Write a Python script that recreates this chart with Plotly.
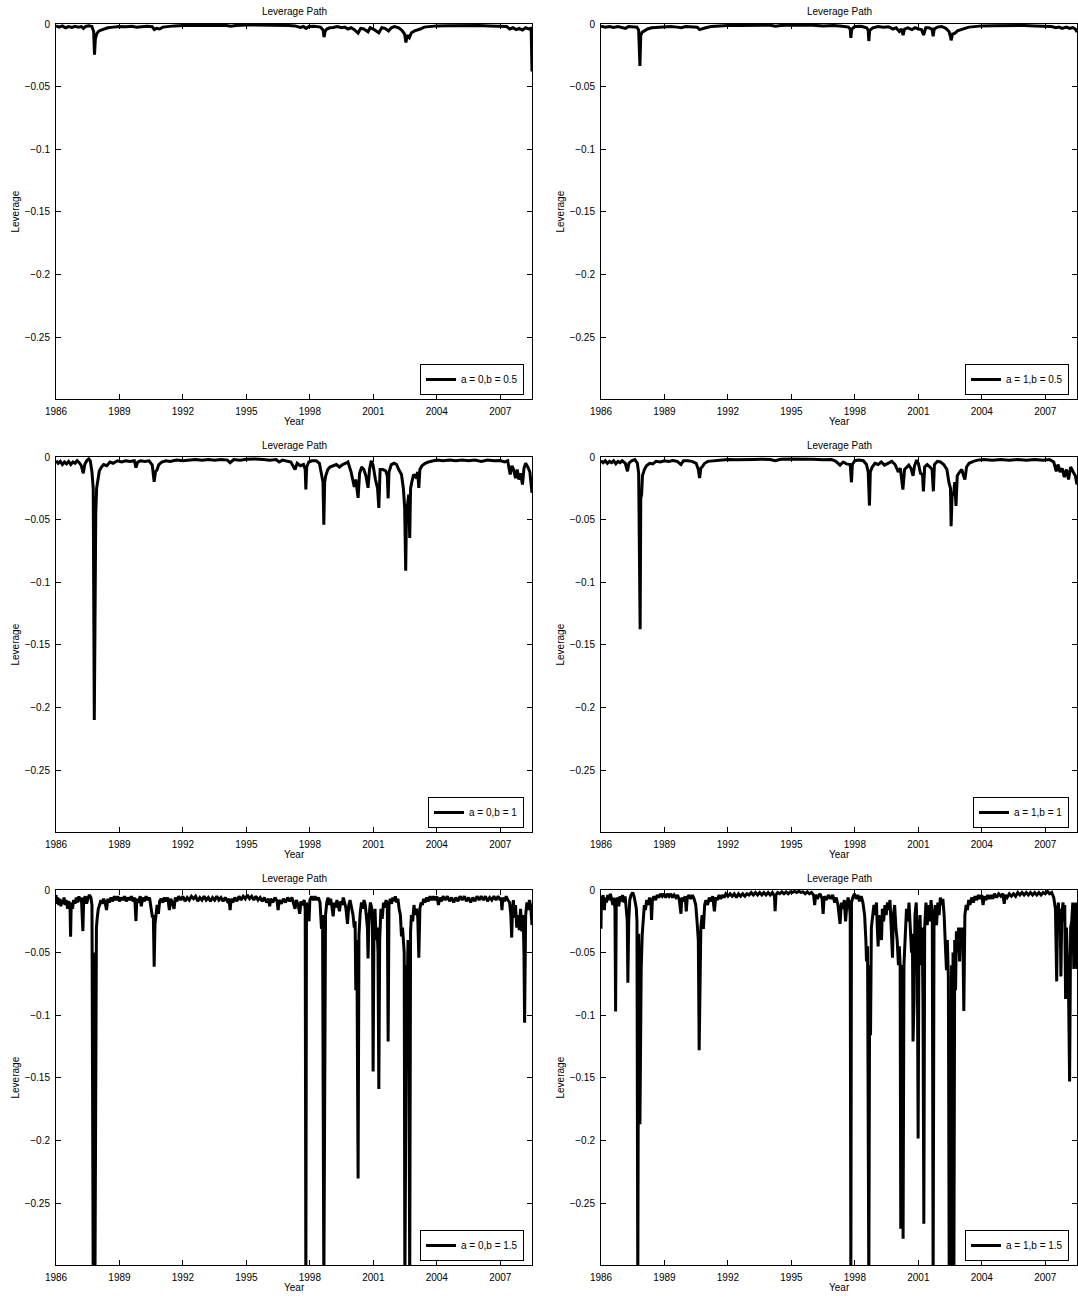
import plotly.graph_objects as go

# ---------------- data (year, leverage) ----------------
lev_a0_b05 = [
    (1986.00, -0.0015), (1986.15, -0.0025), (1986.30, -0.0015), (1986.45, -0.0030), (1986.60, -0.0020),
    (1986.75, -0.0028), (1986.90, -0.0018), (1987.05, -0.0025), (1987.20, -0.0020), (1987.30, -0.0035),
    (1987.40, -0.0020), (1987.55, -0.0015), (1987.70, -0.0020), (1987.78, -0.0060), (1987.82, -0.0245),
    (1987.86, -0.0120), (1987.92, -0.0080), (1988.00, -0.0060), (1988.10, -0.0050), (1988.25, -0.0040),
    (1988.45, -0.0030), (1988.70, -0.0025), (1989.00, -0.0020), (1989.30, -0.0022), (1989.60, -0.0018),
    (1989.80, -0.0025), (1990.00, -0.0020), (1990.30, -0.0018), (1990.55, -0.0022), (1990.65, -0.0045),
    (1990.75, -0.0035), (1990.90, -0.0040), (1991.05, -0.0025), (1991.30, -0.0020), (1991.60, -0.0015),
    (1992.00, -0.0012), (1992.50, -0.0012), (1993.00, -0.0010), (1993.50, -0.0012), (1994.00, -0.0010),
    (1994.25, -0.0018), (1994.50, -0.0012), (1995.00, -0.0008), (1995.50, -0.0008), (1996.00, -0.0010),
    (1996.50, -0.0013), (1997.00, -0.0012), (1997.30, -0.0015), (1997.55, -0.0028), (1997.70, -0.0020),
    (1997.82, -0.0035), (1997.95, -0.0020), (1998.20, -0.0018), (1998.50, -0.0025), (1998.63, -0.0050),
    (1998.67, -0.0105), (1998.72, -0.0060), (1998.80, -0.0040), (1998.95, -0.0030), (1999.10, -0.0028),
    (1999.30, -0.0020), (1999.50, -0.0030), (1999.65, -0.0025), (1999.80, -0.0040), (1999.95, -0.0030),
    (2000.10, -0.0045), (2000.28, -0.0072), (2000.40, -0.0035), (2000.55, -0.0040), (2000.75, -0.0062),
    (2000.85, -0.0030), (2001.00, -0.0040), (2001.15, -0.0055), (2001.26, -0.0070), (2001.40, -0.0030),
    (2001.55, -0.0035), (2001.72, -0.0055), (2001.85, -0.0030), (2002.00, -0.0020), (2002.20, -0.0030),
    (2002.35, -0.0050), (2002.48, -0.0080), (2002.54, -0.0147), (2002.60, -0.0090), (2002.70, -0.0110),
    (2002.80, -0.0070), (2002.95, -0.0055), (2003.10, -0.0050), (2003.22, -0.0040), (2003.40, -0.0025),
    (2003.70, -0.0018), (2004.00, -0.0015), (2004.50, -0.0013), (2005.00, -0.0012), (2005.50, -0.0012),
    (2006.00, -0.0012), (2006.50, -0.0015), (2007.00, -0.0015), (2007.30, -0.0020), (2007.45, -0.0040),
    (2007.60, -0.0030), (2007.75, -0.0045), (2007.90, -0.0035), (2008.05, -0.0048), (2008.20, -0.0030),
    (2008.35, -0.0040), (2008.46, -0.0035), (2008.50, -0.0380),
]

lev_a1_b05 = [
    (1986.00, -0.0018), (1986.20, -0.0025), (1986.40, -0.0020), (1986.60, -0.0028), (1986.80, -0.0020),
    (1987.00, -0.0025), (1987.16, -0.0035), (1987.30, -0.0020), (1987.50, -0.0020), (1987.70, -0.0025),
    (1987.78, -0.0050), (1987.84, -0.0336), (1987.88, -0.0090), (1987.95, -0.0065), (1988.05, -0.0055),
    (1988.20, -0.0040), (1988.40, -0.0030), (1988.70, -0.0025), (1989.00, -0.0020), (1989.30, -0.0020),
    (1989.60, -0.0025), (1989.80, -0.0030), (1990.00, -0.0020), (1990.30, -0.0020), (1990.55, -0.0025),
    (1990.66, -0.0045), (1990.80, -0.0035), (1990.95, -0.0030), (1991.20, -0.0020), (1991.60, -0.0015),
    (1992.00, -0.0012), (1992.50, -0.0012), (1993.00, -0.0010), (1993.50, -0.0012), (1994.00, -0.0010),
    (1994.25, -0.0018), (1994.50, -0.0012), (1995.00, -0.0008), (1995.50, -0.0008), (1996.00, -0.0010),
    (1996.50, -0.0015), (1997.00, -0.0012), (1997.40, -0.0018), (1997.70, -0.0025), (1997.78, -0.0040),
    (1997.81, -0.0110), (1997.85, -0.0040), (1998.00, -0.0020), (1998.30, -0.0018), (1998.55, -0.0030),
    (1998.63, -0.0050), (1998.66, -0.0136), (1998.70, -0.0050), (1998.85, -0.0030), (1999.10, -0.0020),
    (1999.35, -0.0025), (1999.60, -0.0022), (1999.80, -0.0040), (1999.95, -0.0030), (2000.10, -0.0060),
    (2000.20, -0.0040), (2000.28, -0.0088), (2000.35, -0.0040), (2000.50, -0.0030), (2000.70, -0.0045),
    (2000.85, -0.0030), (2001.00, -0.0040), (2001.15, -0.0045), (2001.25, -0.0088), (2001.35, -0.0030),
    (2001.50, -0.0030), (2001.65, -0.0040), (2001.70, -0.0098), (2001.75, -0.0040), (2001.90, -0.0025),
    (2002.10, -0.0020), (2002.30, -0.0035), (2002.45, -0.0060), (2002.52, -0.0100), (2002.55, -0.0130),
    (2002.62, -0.0080), (2002.72, -0.0075), (2002.85, -0.0055), (2003.00, -0.0045), (2003.20, -0.0035),
    (2003.40, -0.0025), (2003.70, -0.0018), (2004.00, -0.0015), (2004.50, -0.0013), (2005.00, -0.0012),
    (2005.50, -0.0012), (2006.00, -0.0012), (2006.50, -0.0015), (2007.00, -0.0015), (2007.30, -0.0020),
    (2007.50, -0.0030), (2007.65, -0.0025), (2007.80, -0.0035), (2008.00, -0.0025), (2008.15, -0.0035),
    (2008.30, -0.0028), (2008.42, -0.0040), (2008.50, -0.0065),
]

lev_a0_b1 = [
    (1986.00, -0.0030), (1986.10, -0.0050), (1986.20, -0.0035), (1986.30, -0.0060), (1986.40, -0.0040),
    (1986.50, -0.0055), (1986.60, -0.0035), (1986.70, -0.0060), (1986.80, -0.0040), (1986.90, -0.0050),
    (1987.00, -0.0030), (1987.10, -0.0045), (1987.20, -0.0070), (1987.29, -0.0130), (1987.36, -0.0060),
    (1987.45, -0.0030), (1987.55, -0.0015), (1987.62, -0.0030), (1987.70, -0.0120), (1987.76, -0.0250),
    (1987.81, -0.2100), (1987.85, -0.0500), (1987.88, -0.0450), (1987.92, -0.0250), (1987.98, -0.0180),
    (1988.05, -0.0110), (1988.15, -0.0080), (1988.25, -0.0060), (1988.40, -0.0070), (1988.55, -0.0040),
    (1988.70, -0.0050), (1988.90, -0.0030), (1989.10, -0.0040), (1989.30, -0.0030), (1989.50, -0.0035),
    (1989.70, -0.0030), (1989.78, -0.0085), (1989.86, -0.0040), (1990.00, -0.0030), (1990.20, -0.0035),
    (1990.40, -0.0030), (1990.55, -0.0065), (1990.64, -0.0198), (1990.70, -0.0120), (1990.78, -0.0100),
    (1990.86, -0.0060), (1991.00, -0.0040), (1991.20, -0.0030), (1991.40, -0.0035), (1991.70, -0.0025),
    (1992.00, -0.0030), (1992.30, -0.0025), (1992.60, -0.0020), (1992.90, -0.0025), (1993.20, -0.0020),
    (1993.50, -0.0025), (1993.80, -0.0020), (1994.10, -0.0025), (1994.23, -0.0045), (1994.40, -0.0020),
    (1994.70, -0.0025), (1995.00, -0.0018), (1995.40, -0.0015), (1995.80, -0.0020), (1996.10, -0.0025),
    (1996.40, -0.0020), (1996.55, -0.0040), (1996.70, -0.0025), (1996.90, -0.0030), (1997.10, -0.0040),
    (1997.30, -0.0100), (1997.40, -0.0050), (1997.55, -0.0070), (1997.70, -0.0060), (1997.78, -0.0100),
    (1997.81, -0.0260), (1997.85, -0.0080), (1997.95, -0.0040), (1998.10, -0.0030), (1998.30, -0.0030),
    (1998.45, -0.0050), (1998.55, -0.0140), (1998.62, -0.0200), (1998.66, -0.0540), (1998.70, -0.0200),
    (1998.75, -0.0150), (1998.85, -0.0100), (1998.95, -0.0080), (1999.10, -0.0070), (1999.25, -0.0060),
    (1999.40, -0.0080), (1999.55, -0.0060), (1999.70, -0.0050), (1999.80, -0.0040), (1999.95, -0.0120),
    (2000.10, -0.0240), (2000.17, -0.0180), (2000.28, -0.0326), (2000.35, -0.0130), (2000.45, -0.0080),
    (2000.55, -0.0100), (2000.65, -0.0150), (2000.75, -0.0246), (2000.82, -0.0100), (2000.90, -0.0030),
    (2000.98, -0.0060), (2001.10, -0.0180), (2001.20, -0.0250), (2001.26, -0.0406), (2001.32, -0.0100),
    (2001.45, -0.0100), (2001.58, -0.0110), (2001.66, -0.0150), (2001.70, -0.0330), (2001.74, -0.0120),
    (2001.85, -0.0060), (2001.98, -0.0050), (2002.10, -0.0060), (2002.20, -0.0100), (2002.33, -0.0140),
    (2002.42, -0.0250), (2002.48, -0.0400), (2002.53, -0.0908), (2002.57, -0.0400), (2002.62, -0.0380),
    (2002.67, -0.0300), (2002.72, -0.0646), (2002.76, -0.0250), (2002.82, -0.0200), (2002.90, -0.0140),
    (2003.00, -0.0160), (2003.10, -0.0120), (2003.15, -0.0246), (2003.20, -0.0100), (2003.30, -0.0070),
    (2003.45, -0.0050), (2003.60, -0.0040), (2003.80, -0.0030), (2004.00, -0.0025), (2004.30, -0.0030),
    (2004.60, -0.0025), (2004.90, -0.0030), (2005.20, -0.0025), (2005.50, -0.0030), (2005.80, -0.0025),
    (2006.10, -0.0035), (2006.40, -0.0025), (2006.70, -0.0030), (2007.00, -0.0028), (2007.20, -0.0040),
    (2007.35, -0.0030), (2007.47, -0.0140), (2007.55, -0.0070), (2007.63, -0.0100), (2007.72, -0.0170),
    (2007.80, -0.0100), (2007.88, -0.0180), (2007.96, -0.0130), (2008.05, -0.0220), (2008.12, -0.0090),
    (2008.20, -0.0050), (2008.30, -0.0080), (2008.40, -0.0120), (2008.50, -0.0286),
]

lev_a1_b1 = [
    (1986.00, -0.0030), (1986.10, -0.0045), (1986.20, -0.0030), (1986.30, -0.0050), (1986.40, -0.0035),
    (1986.50, -0.0045), (1986.60, -0.0030), (1986.70, -0.0055), (1986.80, -0.0035), (1986.90, -0.0045),
    (1987.00, -0.0030), (1987.15, -0.0050), (1987.25, -0.0114), (1987.32, -0.0050), (1987.45, -0.0030),
    (1987.60, -0.0020), (1987.72, -0.0050), (1987.78, -0.0130), (1987.85, -0.1376), (1987.88, -0.0330),
    (1987.92, -0.0300), (1987.96, -0.0150), (1988.05, -0.0100), (1988.15, -0.0070), (1988.30, -0.0050),
    (1988.45, -0.0055), (1988.60, -0.0035), (1988.80, -0.0040), (1989.00, -0.0030), (1989.20, -0.0035),
    (1989.40, -0.0028), (1989.60, -0.0035), (1989.78, -0.0060), (1989.90, -0.0030), (1990.10, -0.0030),
    (1990.30, -0.0035), (1990.50, -0.0050), (1990.60, -0.0100), (1990.66, -0.0168), (1990.72, -0.0090),
    (1990.80, -0.0075), (1990.90, -0.0050), (1991.05, -0.0035), (1991.30, -0.0030), (1991.60, -0.0025),
    (1992.00, -0.0020), (1992.40, -0.0022), (1992.80, -0.0018), (1993.20, -0.0020), (1993.60, -0.0018),
    (1994.00, -0.0020), (1994.23, -0.0030), (1994.50, -0.0018), (1995.00, -0.0015), (1995.50, -0.0015),
    (1996.00, -0.0018), (1996.50, -0.0022), (1996.90, -0.0020), (1997.10, -0.0035), (1997.30, -0.0065),
    (1997.45, -0.0040), (1997.60, -0.0055), (1997.78, -0.0060), (1997.84, -0.0202), (1997.88, -0.0060),
    (1998.00, -0.0030), (1998.20, -0.0025), (1998.40, -0.0030), (1998.55, -0.0060), (1998.63, -0.0120),
    (1998.69, -0.0388), (1998.73, -0.0120), (1998.82, -0.0080), (1998.95, -0.0050), (1999.10, -0.0060),
    (1999.25, -0.0040), (1999.40, -0.0065), (1999.60, -0.0045), (1999.75, -0.0035), (1999.90, -0.0060),
    (2000.05, -0.0120), (2000.15, -0.0090), (2000.27, -0.0260), (2000.35, -0.0100), (2000.45, -0.0085),
    (2000.55, -0.0065), (2000.65, -0.0090), (2000.75, -0.0150), (2000.82, -0.0070), (2000.92, -0.0025),
    (2001.00, -0.0050), (2001.10, -0.0130), (2001.20, -0.0140), (2001.24, -0.0274), (2001.30, -0.0080),
    (2001.42, -0.0060), (2001.55, -0.0080), (2001.65, -0.0100), (2001.71, -0.0274), (2001.76, -0.0060),
    (2001.90, -0.0035), (2002.05, -0.0040), (2002.20, -0.0060), (2002.35, -0.0100), (2002.45, -0.0207),
    (2002.52, -0.0250), (2002.55, -0.0553), (2002.60, -0.0280), (2002.66, -0.0310), (2002.72, -0.0200),
    (2002.78, -0.0390), (2002.84, -0.0150), (2002.95, -0.0120), (2003.05, -0.0100), (2003.12, -0.0140),
    (2003.20, -0.0180), (2003.28, -0.0080), (2003.40, -0.0050), (2003.60, -0.0035), (2003.80, -0.0025),
    (2004.10, -0.0020), (2004.50, -0.0025), (2004.90, -0.0020), (2005.30, -0.0025), (2005.70, -0.0020),
    (2006.10, -0.0025), (2006.50, -0.0020), (2006.90, -0.0025), (2007.20, -0.0020), (2007.40, -0.0040),
    (2007.52, -0.0114), (2007.60, -0.0060), (2007.70, -0.0120), (2007.80, -0.0090), (2007.90, -0.0160),
    (2008.00, -0.0100), (2008.10, -0.0180), (2008.20, -0.0080), (2008.32, -0.0120), (2008.42, -0.0150),
    (2008.50, -0.0220),
]

lev_a0_b15 = [
    (1986.00, -0.004), (1986.04, -0.011), (1986.08, -0.006), (1986.13, -0.012), (1986.18, -0.007),
    (1986.23, -0.013), (1986.28, -0.008), (1986.33, -0.011), (1986.38, -0.006), (1986.43, -0.012),
    (1986.48, -0.008), (1986.55, -0.015), (1986.60, -0.009), (1986.66, -0.012), (1986.69, -0.0373),
    (1986.72, -0.010), (1986.78, -0.015), (1986.83, -0.008), (1986.90, -0.011), (1986.96, -0.006),
    (1987.02, -0.010), (1987.08, -0.005), (1987.14, -0.009), (1987.20, -0.006), (1987.27, -0.0328),
    (1987.31, -0.008), (1987.38, -0.005), (1987.45, -0.011), (1987.52, -0.006), (1987.58, -0.004),
    (1987.65, -0.006), (1987.70, -0.012), (1987.76, -0.320), (1987.80, -0.050), (1987.84, -0.320),
    (1987.88, -0.129), (1987.91, -0.030), (1987.95, -0.022), (1988.00, -0.015), (1988.06, -0.012),
    (1988.12, -0.008), (1988.18, -0.011), (1988.25, -0.007), (1988.32, -0.010), (1988.39, -0.016),
    (1988.45, -0.007), (1988.52, -0.010), (1988.60, -0.006), (1988.68, -0.009), (1988.76, -0.005),
    (1988.84, -0.008), (1988.92, -0.005), (1989.00, -0.009), (1989.08, -0.006), (1989.16, -0.008),
    (1989.24, -0.005), (1989.32, -0.009), (1989.40, -0.006), (1989.48, -0.008), (1989.56, -0.005),
    (1989.64, -0.009), (1989.72, -0.006), (1989.78, -0.0248), (1989.82, -0.007), (1989.90, -0.010),
    (1989.98, -0.005), (1990.03, -0.013), (1990.10, -0.006), (1990.18, -0.009), (1990.26, -0.005),
    (1990.34, -0.008), (1990.42, -0.006), (1990.50, -0.015), (1990.56, -0.022), (1990.60, -0.020),
    (1990.64, -0.0613), (1990.68, -0.027), (1990.72, -0.018), (1990.78, -0.012), (1990.84, -0.019),
    (1990.90, -0.009), (1990.97, -0.007), (1991.05, -0.010), (1991.12, -0.006), (1991.20, -0.009),
    (1991.28, -0.006), (1991.36, -0.016), (1991.42, -0.007), (1991.50, -0.010), (1991.58, -0.015),
    (1991.64, -0.006), (1991.72, -0.009), (1991.80, -0.005), (1991.90, -0.008), (1992.00, -0.005),
    (1992.10, -0.009), (1992.20, -0.006), (1992.30, -0.008), (1992.40, -0.005), (1992.50, -0.007),
    (1992.60, -0.005), (1992.70, -0.009), (1992.80, -0.006), (1992.90, -0.008), (1993.00, -0.005),
    (1993.10, -0.008), (1993.20, -0.006), (1993.30, -0.009), (1993.40, -0.006), (1993.50, -0.008),
    (1993.60, -0.005), (1993.70, -0.008), (1993.80, -0.006), (1993.90, -0.009), (1994.00, -0.006),
    (1994.10, -0.009), (1994.18, -0.007), (1994.23, -0.016), (1994.28, -0.007), (1994.36, -0.010),
    (1994.45, -0.006), (1994.55, -0.009), (1994.65, -0.005), (1994.75, -0.008), (1994.85, -0.005),
    (1994.95, -0.007), (1995.05, -0.004), (1995.15, -0.007), (1995.25, -0.005), (1995.35, -0.008),
    (1995.45, -0.005), (1995.55, -0.008), (1995.65, -0.006), (1995.75, -0.009), (1995.85, -0.006),
    (1995.95, -0.010), (1996.05, -0.007), (1996.10, -0.013), (1996.15, -0.007), (1996.25, -0.010),
    (1996.35, -0.006), (1996.45, -0.009), (1996.50, -0.016), (1996.55, -0.008), (1996.65, -0.011),
    (1996.75, -0.007), (1996.85, -0.010), (1996.95, -0.006), (1997.05, -0.009), (1997.15, -0.006),
    (1997.22, -0.011), (1997.30, -0.015), (1997.36, -0.008), (1997.45, -0.012), (1997.52, -0.019),
    (1997.58, -0.009), (1997.66, -0.012), (1997.73, -0.008), (1997.78, -0.015), (1997.81, -0.320),
    (1997.84, -0.010), (1997.90, -0.015), (1997.96, -0.025), (1998.00, -0.008), (1998.08, -0.005),
    (1998.16, -0.008), (1998.24, -0.005), (1998.32, -0.008), (1998.40, -0.006), (1998.48, -0.010),
    (1998.55, -0.031), (1998.60, -0.020), (1998.66, -0.320), (1998.70, -0.080), (1998.74, -0.020),
    (1998.80, -0.010), (1998.86, -0.006), (1998.92, -0.012), (1998.98, -0.007), (1999.04, -0.013),
    (1999.10, -0.021), (1999.16, -0.010), (1999.22, -0.014), (1999.28, -0.008), (1999.34, -0.012),
    (1999.40, -0.017), (1999.46, -0.009), (1999.52, -0.012), (1999.58, -0.006), (1999.64, -0.011),
    (1999.70, -0.014), (1999.78, -0.027), (1999.84, -0.012), (1999.90, -0.008), (1999.97, -0.013),
    (2000.04, -0.020), (2000.10, -0.030), (2000.14, -0.025), (2000.17, -0.080), (2000.22, -0.040),
    (2000.28, -0.2305), (2000.32, -0.036), (2000.38, -0.018), (2000.44, -0.010), (2000.50, -0.015),
    (2000.56, -0.008), (2000.62, -0.012), (2000.68, -0.020), (2000.72, -0.030), (2000.75, -0.0546),
    (2000.80, -0.020), (2000.86, -0.010), (2000.92, -0.014), (2000.96, -0.030), (2000.99, -0.145),
    (2001.03, -0.030), (2001.08, -0.015), (2001.13, -0.040), (2001.18, -0.030), (2001.22, -0.050),
    (2001.26, -0.159), (2001.30, -0.040), (2001.36, -0.015), (2001.42, -0.023), (2001.48, -0.010),
    (2001.54, -0.014), (2001.60, -0.008), (2001.66, -0.012), (2001.70, -0.121), (2001.74, -0.012),
    (2001.80, -0.007), (2001.86, -0.011), (2001.92, -0.006), (2001.98, -0.009), (2002.04, -0.005),
    (2002.10, -0.010), (2002.16, -0.007), (2002.22, -0.015), (2002.28, -0.020), (2002.33, -0.037),
    (2002.38, -0.030), (2002.42, -0.040), (2002.46, -0.050), (2002.49, -0.320), (2002.53, -0.124),
    (2002.57, -0.060), (2002.60, -0.080), (2002.64, -0.040), (2002.68, -0.100), (2002.72, -0.320),
    (2002.76, -0.033), (2002.80, -0.020), (2002.86, -0.025), (2002.92, -0.012), (2002.98, -0.020),
    (2003.04, -0.015), (2003.10, -0.022), (2003.15, -0.054), (2003.20, -0.015), (2003.26, -0.010),
    (2003.32, -0.012), (2003.38, -0.007), (2003.44, -0.010), (2003.52, -0.006), (2003.60, -0.009),
    (2003.68, -0.005), (2003.76, -0.008), (2003.84, -0.005), (2003.92, -0.008), (2004.00, -0.005),
    (2004.08, -0.012), (2004.14, -0.006), (2004.22, -0.009), (2004.30, -0.005), (2004.40, -0.008),
    (2004.50, -0.005), (2004.60, -0.009), (2004.70, -0.006), (2004.80, -0.010), (2004.90, -0.006),
    (2005.00, -0.009), (2005.10, -0.005), (2005.20, -0.008), (2005.30, -0.005), (2005.40, -0.009),
    (2005.50, -0.006), (2005.60, -0.010), (2005.70, -0.006), (2005.80, -0.009), (2005.90, -0.005),
    (2006.00, -0.008), (2006.10, -0.005), (2006.20, -0.008), (2006.30, -0.005), (2006.40, -0.009),
    (2006.50, -0.006), (2006.60, -0.008), (2006.70, -0.005), (2006.80, -0.008), (2006.90, -0.005),
    (2007.00, -0.008), (2007.04, -0.006), (2007.08, -0.016), (2007.12, -0.006), (2007.20, -0.009),
    (2007.28, -0.005), (2007.36, -0.008), (2007.44, -0.010), (2007.50, -0.020), (2007.54, -0.038),
    (2007.58, -0.015), (2007.62, -0.008), (2007.66, -0.022), (2007.72, -0.012), (2007.78, -0.030),
    (2007.84, -0.020), (2007.90, -0.032), (2007.96, -0.015), (2008.02, -0.033), (2008.08, -0.020),
    (2008.12, -0.050), (2008.15, -0.106), (2008.20, -0.020), (2008.26, -0.010), (2008.32, -0.016),
    (2008.38, -0.008), (2008.44, -0.013), (2008.50, -0.028),
]

lev_a1_b15 = [
    (1986.00, -0.031), (1986.02, -0.005), (1986.06, -0.009), (1986.10, -0.004), (1986.16, -0.016),
    (1986.20, -0.006), (1986.26, -0.010), (1986.32, -0.004), (1986.38, -0.008), (1986.44, -0.003),
    (1986.50, -0.007), (1986.56, -0.012), (1986.62, -0.006), (1986.66, -0.015), (1986.69, -0.097),
    (1986.72, -0.012), (1986.78, -0.006), (1986.84, -0.013), (1986.90, -0.005), (1986.96, -0.009),
    (1987.02, -0.004), (1987.08, -0.010), (1987.14, -0.005), (1987.20, -0.020), (1987.24, -0.024),
    (1987.27, -0.074), (1987.31, -0.025), (1987.36, -0.008), (1987.42, -0.004), (1987.50, -0.002),
    (1987.56, -0.005), (1987.62, -0.010), (1987.67, -0.015), (1987.70, -0.025), (1987.74, -0.320),
    (1987.78, -0.035), (1987.80, -0.060), (1987.84, -0.187), (1987.88, -0.070), (1987.90, -0.063),
    (1987.95, -0.035), (1988.00, -0.020), (1988.05, -0.012), (1988.10, -0.016), (1988.16, -0.008),
    (1988.22, -0.012), (1988.30, -0.006), (1988.36, -0.010), (1988.39, -0.024), (1988.43, -0.008),
    (1988.50, -0.005), (1988.58, -0.008), (1988.66, -0.004), (1988.74, -0.006), (1988.82, -0.003),
    (1988.90, -0.005), (1988.98, -0.003), (1989.06, -0.006), (1989.14, -0.003), (1989.22, -0.005),
    (1989.30, -0.003), (1989.38, -0.006), (1989.46, -0.004), (1989.54, -0.006), (1989.62, -0.004),
    (1989.70, -0.008), (1989.78, -0.019), (1989.82, -0.006), (1989.90, -0.009), (1989.98, -0.005),
    (1990.03, -0.017), (1990.08, -0.006), (1990.16, -0.004), (1990.24, -0.007), (1990.32, -0.004),
    (1990.40, -0.007), (1990.48, -0.012), (1990.54, -0.025), (1990.60, -0.040), (1990.64, -0.128),
    (1990.68, -0.0626), (1990.72, -0.030), (1990.78, -0.020), (1990.84, -0.031), (1990.90, -0.012),
    (1990.96, -0.008), (1991.04, -0.012), (1991.12, -0.006), (1991.20, -0.009), (1991.28, -0.005),
    (1991.36, -0.017), (1991.42, -0.006), (1991.50, -0.008), (1991.58, -0.004), (1991.66, -0.007),
    (1991.74, -0.004), (1991.82, -0.006), (1991.90, -0.003), (1992.00, -0.005), (1992.10, -0.003),
    (1992.20, -0.005), (1992.30, -0.003), (1992.40, -0.006), (1992.50, -0.003), (1992.60, -0.005),
    (1992.70, -0.003), (1992.80, -0.005), (1992.90, -0.003), (1993.00, -0.004), (1993.10, -0.002),
    (1993.20, -0.004), (1993.30, -0.002), (1993.40, -0.004), (1993.50, -0.002), (1993.60, -0.004),
    (1993.70, -0.002), (1993.80, -0.004), (1993.90, -0.002), (1994.00, -0.004), (1994.10, -0.002),
    (1994.20, -0.005), (1994.23, -0.017), (1994.27, -0.004), (1994.35, -0.002), (1994.45, -0.003),
    (1994.55, -0.0015), (1994.65, -0.003), (1994.75, -0.0015), (1994.85, -0.003), (1994.95, -0.0015),
    (1995.05, -0.002), (1995.15, -0.001), (1995.25, -0.002), (1995.35, -0.001), (1995.45, -0.002),
    (1995.55, -0.0015), (1995.65, -0.003), (1995.75, -0.0015), (1995.85, -0.003), (1995.95, -0.002),
    (1996.05, -0.004), (1996.10, -0.012), (1996.15, -0.004), (1996.25, -0.006), (1996.35, -0.003),
    (1996.45, -0.007), (1996.50, -0.019), (1996.55, -0.005), (1996.65, -0.008), (1996.75, -0.004),
    (1996.85, -0.007), (1996.95, -0.004), (1997.05, -0.010), (1997.12, -0.006), (1997.20, -0.012),
    (1997.30, -0.027), (1997.36, -0.010), (1997.44, -0.015), (1997.50, -0.008), (1997.56, -0.025),
    (1997.62, -0.012), (1997.68, -0.006), (1997.74, -0.012), (1997.78, -0.020), (1997.81, -0.320),
    (1997.84, -0.010), (1997.90, -0.006), (1997.98, -0.003), (1998.06, -0.007), (1998.14, -0.004),
    (1998.22, -0.009), (1998.30, -0.005), (1998.38, -0.010), (1998.46, -0.020), (1998.52, -0.040),
    (1998.55, -0.057), (1998.60, -0.045), (1998.66, -0.320), (1998.70, -0.060), (1998.74, -0.116),
    (1998.78, -0.030), (1998.84, -0.020), (1998.90, -0.012), (1998.96, -0.020), (1999.02, -0.010),
    (1999.06, -0.030), (1999.10, -0.045), (1999.14, -0.020), (1999.20, -0.030), (1999.26, -0.040),
    (1999.30, -0.015), (1999.36, -0.025), (1999.42, -0.012), (1999.48, -0.020), (1999.54, -0.010),
    (1999.60, -0.016), (1999.66, -0.008), (1999.72, -0.030), (1999.78, -0.054), (1999.82, -0.020),
    (1999.88, -0.012), (1999.94, -0.030), (2000.00, -0.040), (2000.06, -0.060), (2000.10, -0.045),
    (2000.14, -0.060), (2000.17, -0.2705), (2000.22, -0.060), (2000.28, -0.2785), (2000.32, -0.060),
    (2000.38, -0.030), (2000.44, -0.015), (2000.50, -0.025), (2000.56, -0.010), (2000.62, -0.030),
    (2000.68, -0.050), (2000.72, -0.035), (2000.75, -0.121), (2000.80, -0.087), (2000.84, -0.020),
    (2000.90, -0.010), (2000.95, -0.040), (2000.99, -0.1985), (2001.03, -0.040), (2001.08, -0.020),
    (2001.14, -0.060), (2001.18, -0.030), (2001.22, -0.090), (2001.26, -0.2665), (2001.30, -0.030),
    (2001.36, -0.010), (2001.42, -0.028), (2001.48, -0.012), (2001.54, -0.025), (2001.60, -0.008),
    (2001.66, -0.020), (2001.70, -0.320), (2001.74, -0.030), (2001.80, -0.012), (2001.86, -0.028),
    (2001.92, -0.010), (2001.98, -0.020), (2002.04, -0.006), (2002.10, -0.012), (2002.16, -0.007),
    (2002.22, -0.020), (2002.28, -0.045), (2002.33, -0.064), (2002.37, -0.040), (2002.42, -0.070),
    (2002.46, -0.320), (2002.50, -0.090), (2002.53, -0.320), (2002.57, -0.060), (2002.60, -0.320),
    (2002.64, -0.050), (2002.68, -0.320), (2002.72, -0.040), (2002.76, -0.080), (2002.80, -0.033),
    (2002.85, -0.050), (2002.90, -0.030), (2002.95, -0.057), (2003.00, -0.030), (2003.05, -0.045),
    (2003.10, -0.030), (2003.15, -0.0967), (2003.20, -0.020), (2003.26, -0.012), (2003.32, -0.016),
    (2003.38, -0.008), (2003.44, -0.012), (2003.52, -0.006), (2003.60, -0.010), (2003.68, -0.005),
    (2003.76, -0.008), (2003.84, -0.004), (2003.92, -0.007), (2004.00, -0.004), (2004.06, -0.012),
    (2004.12, -0.005), (2004.20, -0.008), (2004.28, -0.004), (2004.36, -0.007), (2004.44, -0.004),
    (2004.52, -0.007), (2004.60, -0.003), (2004.70, -0.006), (2004.80, -0.003), (2004.90, -0.005),
    (2005.00, -0.003), (2005.06, -0.011), (2005.12, -0.004), (2005.20, -0.006), (2005.30, -0.003),
    (2005.40, -0.005), (2005.50, -0.003), (2005.60, -0.005), (2005.70, -0.002), (2005.80, -0.004),
    (2005.90, -0.002), (2006.00, -0.004), (2006.10, -0.002), (2006.20, -0.004), (2006.30, -0.002),
    (2006.40, -0.004), (2006.50, -0.002), (2006.60, -0.004), (2006.70, -0.002), (2006.80, -0.004),
    (2006.90, -0.002), (2007.00, -0.003), (2007.10, -0.001), (2007.20, -0.003), (2007.30, -0.002),
    (2007.40, -0.006), (2007.48, -0.015), (2007.54, -0.073), (2007.58, -0.020), (2007.62, -0.010),
    (2007.66, -0.030), (2007.70, -0.015), (2007.74, -0.069), (2007.78, -0.020), (2007.84, -0.010),
    (2007.88, -0.025), (2007.92, -0.012), (2007.96, -0.087), (2008.00, -0.030), (2008.05, -0.060),
    (2008.10, -0.080), (2008.15, -0.153), (2008.20, -0.030), (2008.25, -0.025), (2008.30, -0.010),
    (2008.35, -0.063), (2008.40, -0.020), (2008.45, -0.010), (2008.50, -0.063),
]

series = [lev_a0_b05, lev_a1_b05, lev_a0_b1, lev_a1_b1, lev_a0_b15, lev_a1_b15]
legend_labels = ["a = 0,b = 0.5", "a = 1,b = 0.5", "a = 0,b = 1", "a = 1,b = 1",
                 "a = 0,b = 1.5", "a = 1,b = 1.5"]
panel_title = "Leverage Path"
x_label = "Year"
y_label = "Leverage"
x_tick_vals = [1986, 1989, 1992, 1995, 1998, 2001, 2004, 2007]
x_tick_text = ["1986", "1989", "1992", "1995", "1998", "2001", "2004", "2007"]
y_tick_vals = [0, -0.05, -0.10, -0.15, -0.20, -0.25]
y_tick_text = ["0", "\u22120.05", "\u22120.1", "\u22120.15", "\u22120.2", "\u22120.25"]
x_range = [1986, 2008.5]
y_range = [-0.2995, 0]

# ---------------- layout geometry (pixels) ----------------
W, H = 1078, 1298
cols_px = [(56, 532), (601, 1077)]
rows_px = [(24, 399), (457, 832), (890, 1265)]
FONT = "Liberation Sans, Arial, Helvetica, sans-serif"


def px_x(p):
    return p / W


def px_y(p):
    return 1 - p / H


fig = go.Figure()
layout = dict(
    template="none",
    width=W, height=H, autosize=False,
    margin=dict(l=0, r=0, t=0, b=0, pad=0, autoexpand=False),
    paper_bgcolor="white", plot_bgcolor="white",
    font=dict(family=FONT, size=10, color="black"),
    showlegend=True,
)
annotations = []

for i, data in enumerate(series):
    r, c = divmod(i, 2)
    n = i + 1
    xs = [p[0] for p in data]
    ys = [p[1] for p in data]
    xname = "xaxis" if n == 1 else f"xaxis{n}"
    yname = "yaxis" if n == 1 else f"yaxis{n}"
    lname = "legend" if n == 1 else f"legend{n}"
    xref = "x" if n == 1 else f"x{n}"
    yref = "y" if n == 1 else f"y{n}"
    x0, x1 = cols_px[c]
    y0, y1 = rows_px[r]

    fig.add_trace(go.Scatter(
        x=xs, y=ys, mode="lines", name=legend_labels[i],
        line=dict(color="black", width=3),
        xaxis=xref, yaxis=yref, legend=lname, showlegend=True,
        hoverinfo="skip",
    ))

    axis_common = dict(
        automargin=False,
        showline=True, linecolor="black", linewidth=1, mirror="ticks",
        ticks="inside", ticklen=5, tickwidth=1, tickcolor="black",
        showgrid=False, zeroline=False,
        tickfont=dict(family=FONT, size=10, color="black"),
    )
    layout[xname] = dict(
        axis_common, domain=[px_x(x0), px_x(x1)], anchor=yref,
        range=x_range, tickmode="array", tickvals=x_tick_vals, ticktext=x_tick_text,
        ticklabelstandoff=3,
    )
    layout[yname] = dict(
        axis_common, domain=[px_y(y1), px_y(y0)], anchor=xref,
        range=y_range, tickmode="array", tickvals=y_tick_vals, ticktext=y_tick_text,
        ticklabelstandoff=3,
    )
    layout[lname] = dict(
        x=px_x(x1 - 8), y=px_y(y1 - 4), xanchor="right", yanchor="bottom",
        bgcolor="white", bordercolor="black", borderwidth=1,
        font=dict(family=FONT, size=10, color="black"),
        tracegroupgap=0, itemwidth=30,
    )

    cx = (x0 + x1) / 2
    annotations.append(dict(
        text=panel_title, x=px_x(cx), y=px_y(y0 - 12), xref="paper", yref="paper",
        xanchor="center", yanchor="middle", showarrow=False,
        font=dict(family=FONT, size=10, color="black"),
    ))
    annotations.append(dict(
        text=x_label, x=px_x(cx), y=px_y(y1 + 22.5), xref="paper", yref="paper",
        xanchor="center", yanchor="middle", showarrow=False,
        font=dict(family=FONT, size=10, color="black"),
    ))
    annotations.append(dict(
        text=y_label, x=px_x(x0 - 41), y=px_y((y0 + y1) / 2), xref="paper", yref="paper",
        xanchor="center", yanchor="middle", showarrow=False, textangle=-90,
        font=dict(family=FONT, size=10, color="black"),
    ))

layout["annotations"] = annotations
fig.update_layout(**layout)

fig.write_html(
    "out.html",
    config={"displayModeBar": False},
    post_script="document.body.style.margin='0px';document.body.style.overflow='hidden';",
)
